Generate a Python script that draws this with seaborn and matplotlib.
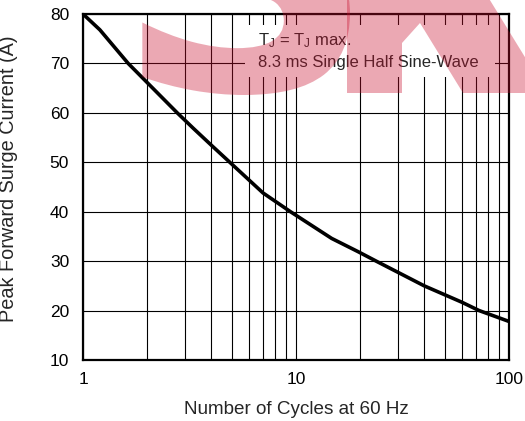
import matplotlib.pyplot as plt
import matplotlib.ticker as mticker
import matplotlib.transforms as mtransforms
import numpy as np
import seaborn as sns
from matplotlib.font_manager import FontProperties
from matplotlib.patches import PathPatch, Polygon, Rectangle
from matplotlib.path import Path
from matplotlib.textpath import TextPath

# --- data ---
cycles = [1, 1.2, 1.63, 2.77, 3.29, 4.04, 4.89, 7.0, 9.42, 14.7, 19.6, 23.8, 40, 60, 72.4, 100]
surge_current = [80, 76.8, 70, 60, 56.9, 53.3, 50, 43.8, 40, 34.6, 31.9, 30, 25, 21.7, 20, 17.8]

x_ticks = [1, 10, 100]
x_tick_labels = ["1", "10", "100"]
y_ticks = [10, 20, 30, 40, 50, 60, 70, 80]

sns.set_style("white")
plt.rcParams["font.family"] = ["Liberation Sans", "DejaVu Sans"]
plt.rcParams["mathtext.default"] = "regular"

W, H = 525, 421
fig = plt.figure(figsize=(W / 100, H / 100), dpi=100)
ax = fig.add_axes([83 / W, 1 - 360 / H, (509 - 83) / W, (360 - 14) / H])

sns.lineplot(x=cycles, y=surge_current, ax=ax, color="black", linewidth=2.6, zorder=3)

# --- axes / grid ---
ax.set_xscale("log")
ax.set_xlim(1, 100)
ax.set_ylim(10, 80)
ax.set_xticks(x_ticks)
ax.set_xticklabels(x_tick_labels)
ax.xaxis.set_minor_locator(mticker.LogLocator(base=10, subs=range(2, 10)))
ax.xaxis.set_minor_formatter(mticker.NullFormatter())
ax.set_yticks(y_ticks)
ax.grid(True, which="both", axis="x", color="black", linewidth=0.8)
ax.grid(True, which="major", axis="y", color="black", linewidth=0.8)
ax.tick_params(axis="both", which="both", length=0, labelsize=12.5, colors="black")
ax.tick_params(axis="x", pad=9)
ax.tick_params(axis="y", pad=10)
for s in ax.spines.values():
    s.set_color("black")
    s.set_linewidth(1.6)

ax.set_xlabel("Number of Cycles at 60 Hz", fontsize=13.6, labelpad=10)
ax.set_ylabel("Peak Forward Surge Current (A)", fontsize=14.3, labelpad=10)
ax.yaxis.set_label_coords(-0.152, 0.525)

# --- annotation box ---
ax.add_patch(Rectangle((0.380, 0.818), 0.587, 0.150, transform=ax.transAxes,
                       facecolor="white", edgecolor="none", zorder=2))
ax.text(0.411, 0.910, r"T$_{J}$ = T$_{J}$ max.", transform=ax.transAxes,
        fontsize=12, va="baseline", ha="left", zorder=4)
ax.text(0.411, 0.847, "8.3 ms Single Half Sine-Wave", transform=ax.transAxes,
        fontsize=12, va="baseline", ha="left", zorder=4)

# --- faint watermark (image pixel coordinates) ---
img_tr = mtransforms.Affine2D().scale(1 / W, -1 / H).translate(0, 1) + fig.transFigure
wm_color = (200 / 255, 16 / 255, 46 / 255)

tp = TextPath((0, 0), "S", size=100, prop=FontProperties(family="DejaVu Sans", weight="bold"))
ext = tp.get_extents()
v = tp.vertices
u_ = (v[:, 0] - ext.x0) / ext.width
v_ = (v[:, 1] - ext.y0) / ext.height
s_verts = np.column_stack([140 + u_ * 210, 95 - v_ * 260])
fig.add_artist(PathPatch(Path(s_verts, tp.codes), transform=img_tr, facecolor=wm_color,
                         edgecolor="none", alpha=0.36, zorder=5))

n_shape = [(347, 93), (347, -60), (453, -60), (547, 93), (463, 93), (420, 23),
           (402, 43), (402, 93)]
fig.add_artist(Polygon(n_shape, closed=True, transform=img_tr, facecolor=wm_color,
                       edgecolor="none", alpha=0.36, zorder=5))

fig.savefig("out.png", dpi=100)
